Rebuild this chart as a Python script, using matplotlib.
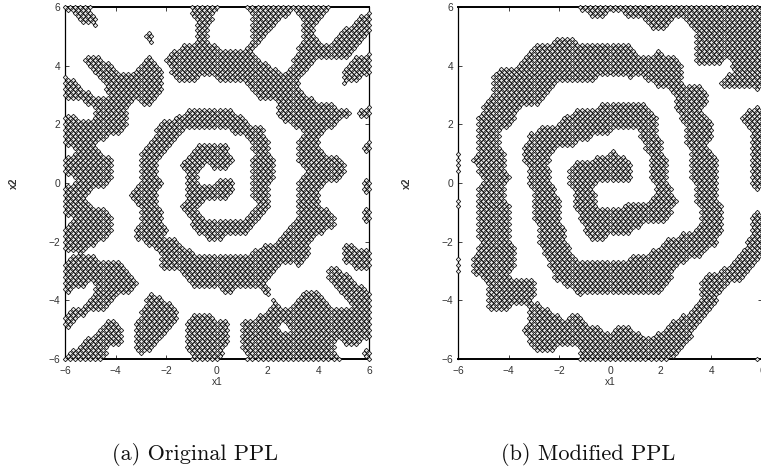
import matplotlib
matplotlib.use("Agg")
import matplotlib.pyplot as plt

# x-extent runs [x0, x1, x0, x1, ...] of the marked grid points, read per row
ROWS_A = {
6.0:[-6,-5,-1,0,1.2,4.4],
5.8:[-5.6,-5,-1,-.2,1.4,2.8,3.2,4.2,6,6],
5.6:[-5.4,-4.8,-.8,-.2,1.4,2.4,3.4,4,5.6,6],
5.4:[-4.8,-4.8,-.8,-.4,1.4,2.2,3.4,3.8,5.4,6],
5.2:[-.8,-.4,1.4,2,3.4,3.8,5,6],
5.0:[-2.8,-2.6,-.8,-.4,1.4,1.8,3.4,3.8,4.8,5.8],
4.8:[-2.6,-2.6,-.8,-.4,1.4,1.6,3.4,4,4.6,5.6],
4.6:[-1.4,0,1.2,1.4,3.2,5.4],
4.4:[-1.8,1.4,3.2,5.2,6,6],
4.2:[-5.2,-4.6,-2.8,-2.6,-2,1.6,3,3.8,5.4,6],
4.0:[-5,-4.2,-3,-2.4,-1.8,2,3,3.6,5.2,6],
3.8:[-4.8,-4,-3.2,-2.2,-1.8,2.4,2.8,3.4,5,6],
3.6:[-6,-6,-4.6,-2.2,-1.6,-.8,0,3.2,5,5.6],
3.4:[-6,-5.6,-4.4,-2.2,1.2,3.2,5,5],
3.2:[-6,-5.4,-4.4,-2.2,1.4,3.2],
3.0:[-6,-5,-4.2,-2.4,1.6,3.4],
2.8:[-5.2,-3.4,-3,-2.6,2.4,3.8],
2.6:[-4.8,-3.6,2.4,4.6,6,6],
2.4:[-4.8,-3.6,-1.2,.6,2.4,5.2,5.6,6],
2.2:[-6,-5.6,-4.8,-3.6,-1.6,1,2.6,4.8],
2.0:[-6,-3.6,-2.2,1.2,3,4.6],
1.8:[-6,-3.8,-2.4,-1.4,.6,1.8,3.4,4.2],
1.6:[-6,-4.4,-2.4,-1.6,1.2,1.8,3.4,4],
1.4:[-6,-4.8,-2.6,-1.8,1.4,2,3.2,4,6,6],
1.2:[-5.6,-4.8,-2.8,-2,-.8,.4,1.4,2,3.2,4,5.8,6],
1.0:[-5.6,-4.6,-3,-2.2,-1,.4,1.6,2,3.2,4.2],
0.8:[-6,-4.2,-3,-2.4,-1.2,.6,1.4,2.2,3.2,4.8],
0.6:[-6,-4.2,-3,-2.4,-1.4,-.6,-.2,.4,1.4,2.2,3.4,5],
0.4:[-6,-4.2,-3,-2.4,-1.2,-.8,1.4,2.2,3.6,5],
0.2:[-5.6,-4.2,-3,-2.4,-1.2,-.8,1.4,2.2,3.4,4.8],
0.0:[-5.6,-4.4,-3,-2.2,-1.2,-.8,0,.6,1.4,2,3.2,4.2,5.8,6],
-0.2:[-6,-5,-3.2,-2.4,-1.2,.6,1.4,2,3.2,4,5.8,6],
-0.4:[-6,-5.2,-3.4,-2.4,-1.2,.4,1.4,2,3.2,4],
-0.6:[-6,-5.2,-3.2,-2.4,-1.2,-.6,1.6,2,3.2,4],
-0.8:[-6,-5,-3,-2.4,-1.4,-.8,1.6,2,3.2,4],
-1.0:[-6,-4.4,-3,-2.2,-1.2,-.8,1.4,1.8,3.2,4.4,5.8,6],
-1.2:[-5.6,-4.2,-3,-2.2,-1,-.6,1.2,1.6,3.2,4.6,5.8,6],
-1.4:[-5.8,-4.2,-3,-2.2,-1,1.4,3,4.6],
-1.6:[-6,-4.2,-3.2,-2,-.8,1.2,2.8,4.2],
-1.8:[-6,-4.4,-3.2,-2.2,-.4,.2,2.6,3.8],
-2.0:[-6,-4.8,-2.8,-1.6,2.4,3.6],
-2.2:[-6,-5.2,-2.4,-1.4,1.8,3.6,5,5.4],
-2.4:[-5.4,-5.4,-2.2,-1,1.4,3.6,5,6],
-2.6:[-5.8,-4.8,-2.2,3.4,5,6],
-2.8:[-6,-3.8,-2.2,2.4,3.2,3.2,5.4,6],
-3.0:[-6,-3.6,-1.4,2.2,4.4,4.8],
-3.2:[-6,-3.4,-1.2,2,4.4,5.2],
-3.4:[-6,-5.2,-4.8,-3.2,-1,1.8,4.6,5.4],
-3.6:[-6,-5.8,-4.8,-3.4,.2,.6,1.8,2,4.8,5.8],
-3.8:[-4.8,-4,-2.6,-2.6,2,2,3.4,4,5,6],
-4.0:[-5,-4.2,-2.8,-2.2,2.2,2.2,3.2,4.2,5.2,6],
-4.2:[-5.2,-4.4,-2.8,-1.8,2.2,2.4,3,4.4,5.4,6],
-4.4:[-5.8,-5.2,-3,-1.6,2,6],
-4.6:[-6,-5.6,-3,-1.6,-1,-.2,1.6,6],
-4.8:[-6,-5.8,-4.4,-4,-3.2,-1.8,-1.2,.4,1,2.4,2.8,6],
-5.0:[-4.6,-3.8,-3.2,-2,-1.2,.4,1,2.4,3,6],
-5.2:[-4.8,-3.8,-3.2,-2.2,-1.2,.4,1,6],
-5.4:[-5.2,-3.8,-3.2,-2.4,-1.2,.4,1,4.6,5,5.6],
-5.6:[-5.4,-4.4,-3.2,-2.6,-1.2,.2,1,4.6],
-5.8:[-5.8,-4.4,-3,-3,-1,.2,1.2,4.6,5.8,6],
-6.0:[-6,-4.6,-1,0,1.2,4.8,6,6],
}
ROWS_B = {
6.0:[-1.2,6],
5.8:[-.8,-.2,.6,6],
5.6:[1.4,2.4,3,6],
5.4:[1.6,2.2,3.2,6],
5.2:[3.4,6],
5.0:[3.4,6],
4.8:[-2.2,-1.4,3.4,6],
4.6:[-3,.8,3.4,6],
4.4:[-3.2,1,1.8,2,3.4,6],
4.2:[-3.4,2.6,3.4,4.4,4.8,6],
4.0:[-3.6,2.8,4.8,6],
3.8:[-4.4,2.8,5,6],
3.6:[-4.6,-2,-1.8,-.6,.8,.8,1.4,2.8,4.6,6],
3.4:[-4.6,-2.2,1.8,2.8,4.4,6],
3.2:[-4.6,-2.4,2.4,3.6,5.8,5.8],
3.0:[-4.6,-2.6,2.6,3.8],
2.8:[-4.8,-2.8,2.6,3.8],
2.6:[-5,-3.6,-.4,1.4,2.6,3.6,5.8,5.8],
2.4:[-5,-3.8,-1.4,1.6,2.8,3.6,5.4,6],
2.2:[-5.2,-3.8,-1.8,1.8,2.8,3.8,5.2,6],
2.0:[-5.2,-4,-2,1.8,3,4,5.4,6],
1.8:[-5.2,-4.4,-2.8,0,1.2,1.8,3,4,5.6,6],
1.6:[-5.2,-4.4,-3.2,-.8,1.2,1.8,3,4,5.6,6],
1.4:[-5.2,-4.4,-3.2,-1.4,1.4,2,3,3.8,5.6,6],
1.2:[-5.2,-4.4,-3.4,-2.2,1.4,2,3.2,3.8,5.6,6],
1.0:[-6,-6,-5.2,-4.2,-3.4,-2.4,0,.2,1.6,2,3.2,4,5.6,6],
0.8:[-6,-6,-5.4,-4.2,-3.4,-2.4,-.6,.6,1.6,2.2,3.2,4.2,5.6,6],
0.6:[-6,-6,-5.2,-4.2,-3.2,-2.6,-1.4,.8,1.6,2.2,3.2,4.2,5.6,6],
0.4:[-6,-6,-5.2,-4.2,-3.2,-2.4,-1.6,.8,1.6,2.2,3.2,4.2,5.6,6],
0.2:[-5,-4,-3.2,-2.4,-1.6,.8,1.6,2.2,3.2,4.2,5.6,6],
0.0:[-5,-4.2,-3.2,-2.4,-1.6,-.6,1.8,2.2,3.4,4.2,5.6,6],
-0.2:[-5.2,-4.2,-3,-2.2,-1.4,-.8,1.8,2.4,3.4,4.2,5.8,5.8],
-0.4:[-5.2,-4.2,-3,-2.2,-1.4,-.6,1.8,2.4,3.4,4.2],
-0.6:[-6,-6,-5.2,-4.2,-3,-2,-1.4,-.6,1.6,2.6,3.4,4.2],
-0.8:[-6,-6,-5.2,-4,-3,-2,-1.4,-.6,.6,2.4,3.6,4.4],
-1.0:[-5.2,-4,-3,-2,-1.2,2.4,3.6,4.4,5.8,5.8],
-1.2:[-5.2,-4,-3,-2,-1.2,2.2,3.6,4.4,5.6,6],
-1.4:[-5.2,-4,-2.8,-2,-1,1.2,3.6,4.4,5.6,6],
-1.6:[-5.2,-4,-2.8,-1.8,-1,.8,3.4,4.4,5.6,6],
-1.8:[-5.2,-4,-2.8,-1.8,-.8,-.2,2.8,4.2,5.6,6],
-2.0:[-5,-4,-2.8,-1.8,2.2,4.2,5.4,6],
-2.2:[-5.2,-3.8,-2.6,-1.6,2,3.8,5.4,6],
-2.4:[-5.2,-3.8,-2.6,-1.6,1.6,3.6,5.2,6],
-2.6:[-6,-6,-5.4,-3.8,-2.4,-1.4,.8,3,5,5.8],
-2.8:[-6,-6,-5.4,-3.8,-2.4,2.6,4.8,5.6],
-3.0:[-6,-6,-5.4,-4,-2.2,2.4,4.4,5.4],
-3.2:[-5,-4,-2.2,2.4,3.8,5.2],
-3.4:[-4.8,-3,-1.8,2.2,3.6,4.6],
-3.6:[-4.8,-3,-1.4,2,3.6,4.4],
-3.8:[-4.8,-3,-1.2,-1.2,3.6,4.2],
-4.0:[-4.8,-3.2,3.6,4.2],
-4.2:[-4.8,-4,-3.2,-2.8,3.4,4],
-4.4:[-3.2,-2.4,3.2,3.8],
-4.6:[-3.2,-2,-1.6,-1.2,2.8,3.6],
-4.8:[-3.2,-1,2.4,3.4],
-5.0:[-3.4,-.4,.2,.8,2.2,3.2],
-5.2:[-3.2,1.2,1.8,3.2],
-5.4:[-3.2,3],
-5.6:[-3,-2.2,-1.2,2.8],
-5.8:[-1.2,2.6],
-6.0:[-1.2,2.2,5.8,5.8],
}
X_TICKS = [-6, -4, -2, 0, 2, 4, 6]
Y_TICKS = [-6, -4, -2, 0, 2, 4, 6]
X_LABEL, Y_LABEL = "x1", "x2"
CAPTIONS = ["(a) Original PPL", "(b) Modified PPL"]

def expand(rows):
    """Points of each listed row, plus the staggered row between listed rows."""
    cells = set()
    for y, runs in rows.items():
        iy = round(y * 10)
        for a, b in zip(runs[::2], runs[1::2]):
            for ix in range(round(a * 10), round(b * 10) + 1, 2):
                cells.add((ix, iy))
    out = set(cells)
    for y in rows:
        iy = round(y * 10)
        for row in (iy, iy - 2):
            for ix, jy in cells:
                if jy == row and (ix + 2, jy) in cells and iy - 1 >= -60:
                    out.add((ix + 1, iy - 1))
    return [c[0] / 10 for c in out], [c[1] / 10 for c in out]

W, H = 761, 468
plt.rcParams["font.family"] = ["Liberation Sans", "DejaVu Sans"]
fig = plt.figure(figsize=(W / 100, H / 100), dpi=100)

for rows, left, cap, capx in ((ROWS_A, 65, CAPTIONS[0], 195.5), (ROWS_B, 458, CAPTIONS[1], 588.5)):
    ax = fig.add_axes([left / W, 1 - 359 / H, 304 / W, 352 / H])
    xs, ys = expand(rows)
    ax.plot(xs, ys, ls="none", marker="D", ms=2.3, mfc="#e6e6e6", mec="#111111",
            mew=0.55, clip_on=False, zorder=3)
    ax.set_xlim(-6, 6)
    ax.set_ylim(-6, 6)
    ax.set_xticks(X_TICKS)
    ax.set_yticks(Y_TICKS)
    ax.tick_params(direction="in", length=3, width=0.6, top=True, right=True,
                   labelsize=7.4, color="#222222", labelcolor="#333333")
    ax.tick_params(axis="x", pad=5)
    ax.tick_params(axis="y", pad=3.5)
    for side, lw in (("left", 0.9), ("right", 0.9), ("top", 1.4), ("bottom", 1.4)):
        ax.spines[side].set_linewidth(lw)
    ax.set_xlabel(X_LABEL, fontsize=7.4, labelpad=0.5, color="#333333")
    fig.text((left - 51) / W, 1 - 183 / H, Y_LABEL, rotation=90, fontsize=7.4,
             fontweight="bold", ha="center", va="center", color="#333333")
    fig.text(capx / W, 1 - 455 / H, cap, family="cmr10", fontsize=16,
             ha="center", va="center", color="#111111")

fig.savefig("out.png", dpi=100)
